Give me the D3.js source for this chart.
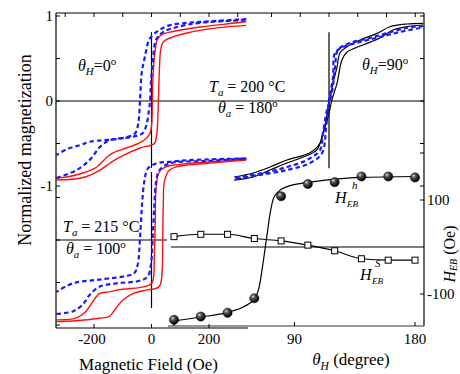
<!DOCTYPE html>
<html><head><meta charset="utf-8">
<script src="https://cdn.jsdelivr.net/npm/d3@7"></script>
<style>
body{margin:0;background:#fff}
svg{display:block}
text{font-family:"Liberation Serif","DejaVu Serif","Noto Serif","Times New Roman",serif;fill:#000}
</style>
</head><body>
<svg id="c" width="460" height="374"></svg>
<script>
// ---------- DATA ----------
// axis tick values
const fieldTickLabels = [-200, 0, 200];
const fieldTopTicksL = [-300, -200, -100, 0, 100, 200, 300];
const fieldTopTicksR = [-200, -100, 0, 100, 200, 300];
const magTickLabels = [1, 0, -1];
const magTicksUpper = [1, 0.5, 0, -0.5, -1];
const magTicksLower = [0.5, 0, -0.5, -1];
const angleTicks = [0, 90, 180];
const angleTickLabels = [90, 180];
const hebTicks = [200, 100, -100];
const hebTickLabels = [100, -100];

// Ta = 200 C, thetaH = 0 : [H (Oe), M/Ms]
const h0RedDesc = [[330,0.935],[300,0.92],[169,0.87],[75,0.818],[35,0.78],[20,0.72],[13,0.6],[6,0.33],[3,0],[1,-0.26],[-5,-0.38],[-17,-0.435],[-40,-0.49],[-85,-0.55],[-134,-0.61],[-158,-0.67],[-190,-0.776],[-238,-0.847],[-294,-0.894],[-330,-0.906]];
const h0RedAsc = [[-330,-0.93],[-238,-0.9],[-179,-0.812],[-144,-0.729],[-110,-0.66],[-40,-0.553],[10,-0.5],[18,-0.4],[24,0],[27,0.33],[32,0.6],[40,0.69],[53,0.725],[123,0.80],[228,0.86],[330,0.89]];
const h0BlueDesc = [[330,0.965],[169,0.93],[123,0.92],[54,0.88],[19,0.815],[-5,0.74],[-11,0.70],[-23,0.52],[-34,0.33],[-40,0],[-46,-0.26],[-57,-0.38],[-99,-0.435],[-214,-0.48],[-249,-0.52],[-294,-0.565],[-330,-0.635]];
const h0BlueAsc = [[-330,-0.906],[-259,-0.81],[-214,-0.69],[-179,-0.54],[-144,-0.46],[-64,-0.42],[-30,-0.376],[-16,-0.26],[-9,-0.106],[-5,0],[-2,0.21],[5,0.48],[16,0.72],[40,0.81],[89,0.87],[169,0.92],[330,0.95]];

// Ta = 200 C, thetaH = 90
const h90Black1 = [[327,0.914],[271,0.906],[212,0.874],[167,0.796],[108,0.718],[63,0.639],[38,0.565],[28,0.4],[14,0.21],[3,0.01],[-10,-0.224],[-31,-0.494],[-66,-0.61],[-146,-0.694],[-205,-0.776],[-264,-0.847],[-330,-0.894]];
const h90Black2 = [[327,0.894],[271,0.874],[223,0.835],[177,0.741],[118,0.659],[63,0.576],[45,0.482],[28,0.21],[10,0.01],[-3,-0.188],[-21,-0.376],[-42,-0.576],[-90,-0.659],[-146,-0.729],[-205,-0.812],[-264,-0.894],[-330,-0.93]];
const h90Blue1 = [[327,0.882],[271,0.859],[202,0.8],[143,0.741],[73,0.682],[31,0.6],[21,0.4],[10,0.094],[-7,-0.106],[-21,-0.376],[-31,-0.576],[-77,-0.694],[-146,-0.776],[-230,-0.847],[-330,-0.906]];
const h90Blue2 = [[317,0.859],[247,0.812],[177,0.753],[108,0.694],[49,0.635],[21,0.565],[14,0.282],[0,0.01],[-10,-0.306],[-24,-0.612],[-66,-0.729],[-146,-0.812],[-240,-0.871],[-330,-0.918]];

// Ta = 215 C, theta_a = 100
const t215RedDesc = [[330,0.95],[190,0.914],[131,0.90],[50,0.86],[27,0.80],[16,0.61],[13,0.215],[10,-0.18],[4,-0.49],[-8,-0.53],[-42,-0.56],[-100,-0.58],[-147,-0.61],[-181,-0.63],[-205,-0.73],[-228,-0.84],[-263,-0.92],[-330,-0.94]];
const t215RedAsc = [[-330,-0.96],[-263,-0.95],[-181,-0.92],[-147,-0.90],[-123,-0.80],[-100,-0.71],[-65,-0.63],[-19,-0.59],[16,-0.57],[30,-0.53],[37,-0.37],[39,0.02],[41,0.41],[45,0.69],[62,0.82],[85,0.86],[190,0.90],[330,0.94]];
const t215BlueDesc = [[330,0.96],[131,0.94],[62,0.92],[16,0.90],[-13,0.84],[-25,0.69],[-33,0.41],[-40,0.02],[-48,-0.29],[-60,-0.39],[-100,-0.43],[-193,-0.47],[-274,-0.51],[-330,-0.61]];
const t215BlueAsc = [[-330,-0.87],[-274,-0.84],[-239,-0.76],[-216,-0.65],[-181,-0.55],[-123,-0.51],[-42,-0.48],[-13,-0.43],[-2,-0.29],[4,0.02],[10,0.41],[16,0.69],[27,0.82],[62,0.90],[190,0.93],[330,0.96]];

// Exchange bias vs thetaH
const thetaH = [0,20,40,60,80,100,120,140,160,180];
const hebH = [-155,-148,-140,-109,108,134,138,150,150,148];
const hebS = [22,27,27,18,13,4,-8,-25,-28,-28];
const hebHfit = [[0,-157],[20,-149],[40,-139],[52,-127],[60,-111],[64,-80],[66.7,-30],[69.2,20],[71.7,70],[74.2,103],[78,118],[84,128],[99,137],[119,144],[139,148],[180,150]];

// ---------- DRAW ----------
const svg = d3.select("#c");
const defs = svg.append("defs");
const grad = defs.append("radialGradient").attr("id","ball").attr("cx","35%").attr("cy","32%").attr("r","65%");
grad.append("stop").attr("offset","0%").attr("stop-color","#d8d8d8");
grad.append("stop").attr("offset","35%").attr("stop-color","#555");
grad.append("stop").attr("offset","100%").attr("stop-color","#000");

const xL = d3.scaleLinear().domain([-330,330]).range([56.6,246.4]);
const xR = d3.scaleLinear().domain([-330,330]).range([234.1,423.9]);
const yU = d3.scaleLinear().domain([-1,1]).range([186,16]);
const yLo = d3.scaleLinear().domain([-1,1]).range([325,155]);
const xT = d3.scaleLinear().domain([0,180]).range([174,415]);
const yT = d3.scaleLinear().domain([-100,100]).range([294,200]);

const frameL=56, frameR=424, frameT=13, frameB=328;

function seg(x1,y1,x2,y2,w,c){svg.append("line").attr("x1",x1).attr("y1",y1).attr("x2",x2).attr("y2",y2).attr("stroke",c||"#000").attr("stroke-width",w||1.2);}

function curve(data, xs, ys, color, dashed, w){
  const line = d3.line().x(d=>xs(d[0])).y(d=>ys(d[1])).curve(d3.curveCatmullRom.alpha(0.5));
  svg.append("path").attr("d", line(data)).attr("fill","none").attr("stroke",color)
    .attr("stroke-width", w).attr("stroke-dasharray", dashed ? "4.5,3" : null);
}

// reference lines
seg(frameL, yU(0), frameR, yU(0));
seg(frameL, yLo(0), 167, yLo(0));
seg(171, yT(0), frameR, yT(0));
seg(xL(0), yU(0.81), xL(0), 168);
seg(xL(0), 172, xL(0), yLo(-0.8));
seg(xR(0), yU(0.81), xR(0), yU(-0.79));

// loops
const RED="#ff1010", BLUE="#1a1aff";
curve(h0RedDesc, xL, yU, RED, false, 1.4);
curve(h0RedAsc, xL, yU, RED, false, 1.4);
curve(h0BlueDesc, xL, yU, BLUE, true, 2.2);
curve(h0BlueAsc, xL, yU, BLUE, true, 2.2);

curve(h90Black1, xR, yU, "#000", false, 1.2);
curve(h90Black2, xR, yU, "#000", false, 1.2);
curve(h90Blue1, xR, yU, BLUE, true, 2.2);
curve(h90Blue2, xR, yU, BLUE, true, 2.2);

curve(t215RedDesc, xL, yLo, RED, false, 1.4);
curve(t215RedAsc, xL, yLo, RED, false, 1.4);
curve(t215BlueDesc, xL, yLo, BLUE, true, 2.2);
curve(t215BlueAsc, xL, yLo, BLUE, true, 2.2);

// inset fits and points
svg.append("path").attr("d", d3.line().x(d=>xT(d[0])).y(d=>yT(d[1])).curve(d3.curveMonotoneX)(hebHfit))
  .attr("fill","none").attr("stroke","#000").attr("stroke-width",1.2);
svg.append("path").attr("d", d3.line().x((d,i)=>xT(thetaH[i])).y(d=>yT(d)).curve(d3.curveMonotoneX)(hebS))
  .attr("fill","none").attr("stroke","#000").attr("stroke-width",1.1);
svg.selectAll("rect.sq").data(hebS).enter().append("rect")
  .attr("x",(d,i)=>xT(thetaH[i])-3).attr("y",d=>yT(d)-3).attr("width",6).attr("height",6)
  .attr("fill","#fff").attr("stroke","#000").attr("stroke-width",1);
svg.selectAll("circle.b").data(hebH).enter().append("circle")
  .attr("cx",(d,i)=>xT(thetaH[i])).attr("cy",d=>yT(d)).attr("r",4.6)
  .attr("fill","url(#ball)").attr("stroke","#000").attr("stroke-width",0.5);

// frame
seg(frameL, frameT, frameR, frameT);
seg(frameL, frameT, frameL, frameB);
seg(frameR, frameT, frameR, 326);
seg(frameL, frameB, 248, frameB);
seg(168, 326, frameR, 326, 1.1, "#333");

// ticks
const tk=4;
fieldTopTicksL.forEach(v=>seg(xL(v),frameT,xL(v),frameT+tk,1));
fieldTopTicksR.forEach(v=>seg(xR(v),frameT,xR(v),frameT+tk,1));
fieldTickLabels.forEach(v=>seg(xL(v),frameB,xL(v),frameB-tk,1));
angleTicks.forEach(v=>seg(xT(v),326,xT(v),326-tk,1));
magTicksUpper.forEach(v=>{seg(frameL,yU(v),frameL+tk,yU(v),1); seg(frameR,yU(v),frameR-tk,yU(v),1);});
magTicksLower.forEach(v=>seg(frameL,yLo(v),frameL+tk,yLo(v),1));
hebTicks.forEach(v=>seg(frameR,yT(v),frameR-tk,yT(v),1));

// tick labels
const TF=15;
svg.selectAll("text.ml").data(magTickLabels).enter().append("text")
  .attr("x",53).attr("y",d=>yU(d)+5).attr("text-anchor","end").attr("font-size",TF).text(d=>d);
svg.selectAll("text.fl").data(fieldTickLabels).enter().append("text")
  .attr("x",d=>xL(d)-(d<0?2:0)).attr("y",344).attr("text-anchor","middle").attr("font-size",TF).text(d=>d);
svg.selectAll("text.al").data(angleTickLabels).enter().append("text")
  .attr("x",d=>xT(d)).attr("y",344).attr("text-anchor","middle").attr("font-size",TF).text(d=>d);
svg.selectAll("text.hl").data(hebTickLabels).enter().append("text")
  .attr("x",427).attr("y",d=>yT(d)+5).attr("text-anchor","start").attr("font-size",TF).text(d=>d);

// rich text helper
function rich(parent, x, y, parts, size, anchor){
  const t = parent.append("text").attr("x",x).attr("y",y).attr("font-size",size).attr("text-anchor",anchor||"start");
  let prev=0;
  parts.forEach(p=>{
    const shift = p.sub ? size*0.28 : p.sup ? -size*0.38 : 0;
    const ts = t.append("tspan").text(p.t).attr("dy", shift-prev);
    if(p.i) ts.attr("font-style","italic");
    if(p.sub||p.sup) ts.attr("font-size", size*0.68);
    prev = shift;
  });
  return t;
}

const AF=16;
rich(svg, 78, 71, [{t:"θ",i:true},{t:"H",i:true,sub:true},{t:"=0"},{t:"o",sup:true}], AF);
rich(svg, 209, 92, [{t:"T",i:true},{t:"a",i:true,sub:true},{t:" = 200 °C"}], AF);
rich(svg, 218, 113, [{t:"θ",i:true},{t:"a",i:true,sub:true},{t:" = 180"},{t:"o",sup:true}], AF);
rich(svg, 362, 70, [{t:"θ",i:true},{t:"H",i:true,sub:true},{t:"=90"},{t:"o",sup:true}], AF);
rich(svg, 63, 232, [{t:"T",i:true},{t:"a",i:true,sub:true},{t:" = 215 °C"}], AF);
rich(svg, 66, 254, [{t:"θ",i:true},{t:"a",i:true,sub:true},{t:" = 100"},{t:"o",sup:true}], AF);

// H_EB^h and H_EB^S
svg.append("text").attr("x",335).attr("y",203).attr("font-size",16).attr("font-style","italic").text("H");
svg.append("text").attr("x",347).attr("y",207).attr("font-size",9).attr("font-style","italic").text("EB");
svg.append("text").attr("x",352).attr("y",189).attr("font-size",11).attr("font-style","italic").text("h");
svg.append("text").attr("x",360).attr("y",280).attr("font-size",16).attr("font-style","italic").text("H");
svg.append("text").attr("x",372).attr("y",284).attr("font-size",9).attr("font-style","italic").text("EB");
svg.append("text").attr("x",375).attr("y",267).attr("font-size",11).attr("font-style","italic").text("S");

// axis titles
svg.append("text").attr("transform","translate(31,150) rotate(-90)").attr("text-anchor","middle")
  .attr("font-size",18).text("Normalized magnetization");
svg.append("text").attr("x",148.5).attr("y",370).attr("text-anchor","middle").attr("font-size",17).text("Magnetic Field (Oe)");
rich(svg, 351, 365, [{t:"θ",i:true},{t:"H",i:true,sub:true},{t:" (degree)"}], 17, "middle");
const rg = svg.append("g").attr("transform","translate(455,254) rotate(-90)");
const rt = rg.append("text").attr("x",0).attr("y",0).attr("font-size",16).attr("text-anchor","middle");
rt.append("tspan").attr("font-style","italic").text("H");
rt.append("tspan").attr("font-style","italic").attr("font-size",10).attr("dy",2).text("EB");
rt.append("tspan").attr("dy",-2).text(" (Oe)");
</script>
</body></html>
